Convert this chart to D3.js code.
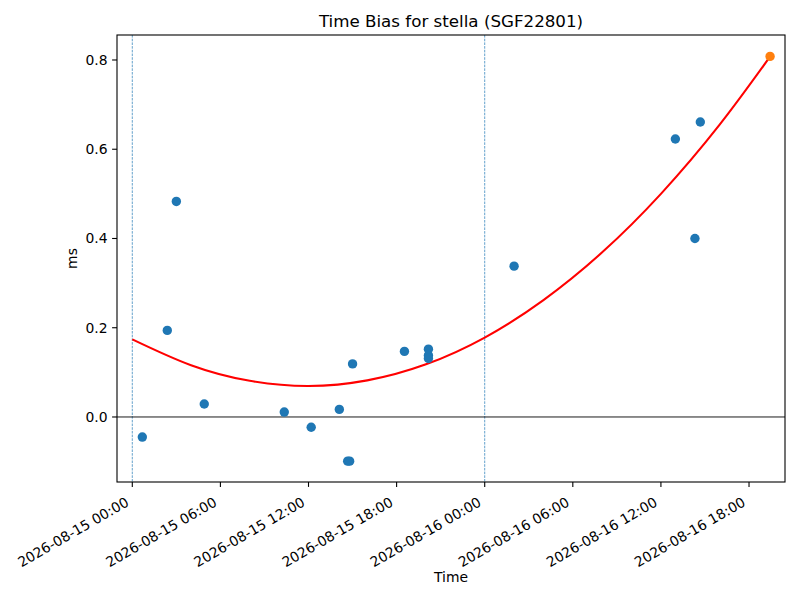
<!DOCTYPE html>
<html><head><meta charset="utf-8">
<script src="https://cdn.jsdelivr.net/npm/d3@7"></script>
<style>body{margin:0;background:#fff}svg{display:block}text{font-family:"DejaVu Sans",sans-serif;fill:#000}</style>
</head><body><svg id="c" width="800" height="600"></svg>
<script>
// ---- data ----
const title = "Time Bias for stella (SGF22801)";
const xLabel = "Time";
const yLabel = "ms";
const pointTimes = ["2026-08-15T00:41","2026-08-15T02:23","2026-08-15T03:00","2026-08-15T04:54",
  "2026-08-15T10:21","2026-08-15T12:11","2026-08-15T14:06","2026-08-15T14:40","2026-08-15T14:48",
  "2026-08-15T15:00","2026-08-15T18:32","2026-08-15T20:10","2026-08-15T20:10","2026-08-15T20:10",
  "2026-08-16T02:00","2026-08-16T12:59","2026-08-16T14:19","2026-08-16T14:41"];
const pointValues = [-0.045,0.194,0.483,0.029,0.011,-0.023,0.017,-0.099,-0.099,
  0.119,0.147,0.152,0.138,0.131,0.338,0.623,0.400,0.661];
const latestTime = "2026-08-16T19:26";
const latestValue = 0.808;
const fitTimes = ["2026-08-15T00:00","2026-08-15T04:00","2026-08-15T08:00","2026-08-15T12:00",
  "2026-08-15T16:00","2026-08-15T20:00","2026-08-16T00:00","2026-08-16T04:00","2026-08-16T08:00",
  "2026-08-16T12:00","2026-08-16T16:00","2026-08-16T19:26"];
const fitValues = [0.174,0.116,0.081,0.0695,0.082,0.118,0.178,0.262,0.369,0.500,0.655,0.8075];
const vLineTimes = ["2026-08-15T00:00","2026-08-16T00:00"];
const xDomain = ["2026-08-14T22:57:30","2026-08-16T20:27"];
const yDomain = [-0.1457, 0.856];
const xTickTimes = ["2026-08-15T00:00","2026-08-15T06:00","2026-08-15T12:00","2026-08-15T18:00",
  "2026-08-16T00:00","2026-08-16T06:00","2026-08-16T12:00","2026-08-16T18:00"];
const yTicks = [0.0,0.2,0.4,0.6,0.8];

// ---- drawing ----
const parse = d3.utcParse("%Y-%m-%dT%H:%M");
const parseS = d3.utcParse("%Y-%m-%dT%H:%M:%S");
const P = s => parse(s) || parseS(s);
const L=117, R=785, T=35, B=482;
const svg = d3.select("#c");
const x = d3.scaleUtc().domain(xDomain.map(P)).range([L,R]);
const y = d3.scaleLinear().domain(yDomain).range([B,T]);
const fmt = d3.utcFormat("%Y-%m-%d %H:%M");

const g = svg.append("g");
g.append("defs").append("clipPath").attr("id","clip").append("rect")
  .attr("x",L).attr("y",T).attr("width",R-L).attr("height",B-T);
const plot = g.append("g").attr("clip-path","url(#clip)");

// vertical dashed lines
plot.selectAll("line.v").data(vLineTimes).enter().append("line")
  .attr("x1",d=>x(P(d))).attr("x2",d=>x(P(d))).attr("y1",T).attr("y2",B)
  .attr("stroke","#1f77b4").attr("stroke-width",0.7).attr("stroke-dasharray","2.6,1.1");
// zero line
plot.append("line").attr("x1",L).attr("x2",R).attr("y1",y(0)).attr("y2",y(0))
  .attr("stroke","#000").attr("stroke-width",0.9);

// fit curve
const fit = fitTimes.map((t,i)=>[P(t),fitValues[i]]);
plot.append("path").datum(fit)
  .attr("d", d3.line().x(d=>x(d[0])).y(d=>y(d[1])).curve(d3.curveNatural))
  .attr("fill","none").attr("stroke","red").attr("stroke-width",2.08);

// points
plot.selectAll("circle.p").data(pointTimes.map((t,i)=>[P(t),pointValues[i]])).enter().append("circle")
  .attr("cx",d=>x(d[0])).attr("cy",d=>y(d[1])).attr("r",4.7).attr("fill","#1f77b4");
plot.append("circle").attr("cx",x(P(latestTime))).attr("cy",y(latestValue)).attr("r",4.7).attr("fill","#ff7f0e");

// frame
g.append("rect").attr("x",L).attr("y",T).attr("width",R-L).attr("height",B-T)
  .attr("fill","none").attr("stroke","#000").attr("stroke-width",1.1);

// x ticks
const xt = g.selectAll("g.xt").data(xTickTimes.map(P)).enter().append("g");
xt.append("line").attr("x1",d=>x(d)).attr("x2",d=>x(d)).attr("y1",B).attr("y2",B+4.9)
  .attr("stroke","#000").attr("stroke-width",1.1);
xt.append("text").attr("transform",d=>`translate(${x(d)-2.5},${B+23}) rotate(-30)`)
  .attr("text-anchor","end").style("font-size","13.9px").text(d=>fmt(d));

// y ticks
const yt = g.selectAll("g.yt").data(yTicks).enter().append("g");
yt.append("line").attr("x1",L-4.9).attr("x2",L).attr("y1",d=>y(d)).attr("y2",d=>y(d))
  .attr("stroke","#000").attr("stroke-width",1.1);
yt.append("text").attr("x",L-9.5).attr("y",d=>y(d)).attr("dy","0.36em")
  .attr("text-anchor","end").style("font-size","13.9px").text(d=>d.toFixed(1));

// labels
g.append("text").attr("x",(L+R)/2).attr("y",27).attr("text-anchor","middle")
  .style("font-size","16.7px").text(title);
g.append("text").attr("x",(L+R)/2).attr("y",582).attr("text-anchor","middle")
  .style("font-size","13.9px").text(xLabel);
g.append("text").attr("transform",`translate(77,${(T+B)/2}) rotate(-90)`).attr("text-anchor","middle")
  .style("font-size","13.9px").text(yLabel);
</script></body></html>
